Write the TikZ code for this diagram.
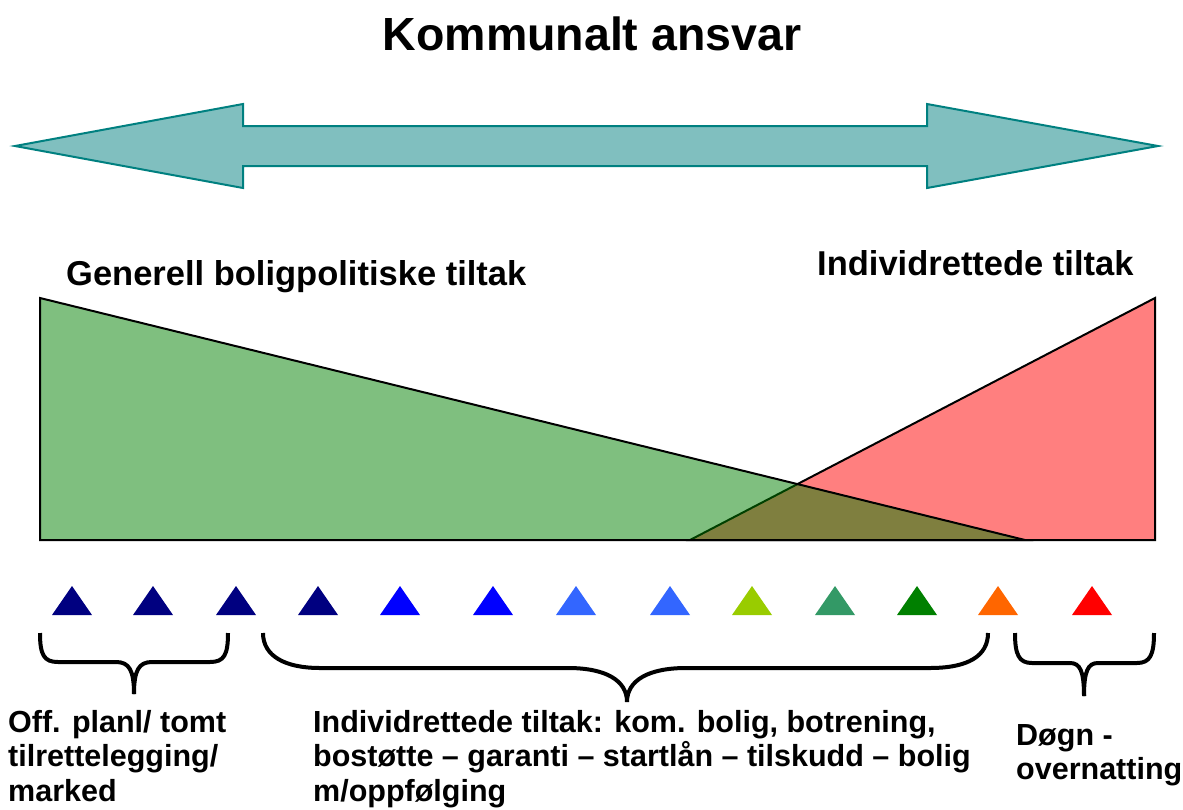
\documentclass[tikz,border=0pt]{standalone}
\usepackage{fontspec}
\setmainfont{Liberation Sans}
\definecolor{arrowfillc}{RGB}{128,191,191}
\definecolor{arrowline}{RGB}{0,128,128}
\definecolor{navyc}{RGB}{0,0,128}
\definecolor{bluec}{RGB}{0,0,255}
\definecolor{lightbluec}{RGB}{51,102,255}
\definecolor{limec}{RGB}{153,204,0}
\definecolor{seagreenc}{RGB}{51,153,102}
\definecolor{greenc}{RGB}{0,128,0}
\definecolor{orangec}{RGB}{255,102,0}
\definecolor{redc}{RGB}{255,0,0}
\begin{document}
\begin{tikzpicture}[x=1pt,y=-1pt,
  bigarrow/.style={fill=arrowfillc, draw=arrowline, line width=2pt, line join=miter},
  wedge/.style={draw=black, line width=2pt, fill opacity=0.5, line join=miter},
  marker/.style={fill=#1},
  bracepath/.style={draw=black, line width=4pt},
  titletext/.style={font=\bfseries\fontsize{46.5}{52}\selectfont, inner sep=0pt},
  headtext/.style={font=\bfseries\fontsize{34.5}{40}\selectfont, inner sep=0pt, anchor=base west},
  bottomtext/.style={font=\bfseries\fontsize{30.5}{34.5}\selectfont, inner sep=0pt, anchor=base west, align=left}
]
\useasboundingbox (0,0) rectangle (1183,809);

% title
\node[titletext, anchor=base] (title) at (592,50) {Kommunalt ansvar};

% double arrow
\draw[bigarrow] (15,146) -- (243,104) -- (243,126) -- (927,126) -- (927,104)
  -- (1158,146) -- (927,188) -- (927,166) -- (243,166) -- (243,188) -- cycle;

% headings
\node[headtext] (gen) at (66,285) {Generell boligpolitiske tiltak};
\node[headtext] (ind) at (817,275) {Individrettede tiltak};

% wedges
\draw[wedge, fill=redc] (1155,298) -- (1155,540) -- (690,540) -- cycle;
\draw[wedge, fill=greenc] (40,298) -- (40,540) -- (1025,540) -- cycle;

% markers
\foreach \x/\c in {72/navyc,153/navyc,236/navyc,318/navyc,400/bluec,493/bluec,
  576/lightbluec,670/lightbluec,752/limec,835/seagreenc,917/greenc,998/orangec,1092/redc}{
  \fill[marker=\c] (\x-20,615) -- (\x,586) -- (\x+20,615) -- cycle;
}

% braces
\draw[bracepath] (40,633) .. controls (40,655) and (44,662) .. (58,662) -- (116,662)
  .. controls (129,662) and (134,670) .. (134,694);
\draw[bracepath] (134,694) .. controls (134,670) and (139,662) .. (152,662) -- (210,662)
  .. controls (224,662) and (228,655) .. (228,633);

\draw[bracepath] (263,633) .. controls (263,656) and (285,668) .. (320,668) -- (568,668)
  .. controls (605,668) and (627,680) .. (627,702);
\draw[bracepath] (627,702) .. controls (627,680) and (649,668) .. (686,668) -- (930,668)
  .. controls (968,668) and (988,656) .. (988,633);

\draw[bracepath] (1015,633) .. controls (1015,655) and (1019,663) .. (1032,663) -- (1070,663)
  .. controls (1080,663) and (1084,671) .. (1084,696);
\draw[bracepath] (1084,696) .. controls (1084,671) and (1088,663) .. (1098,663) -- (1137,663)
  .. controls (1150,663) and (1154,655) .. (1154,633);

% bottom texts
\node[bottomtext] (left) at (8,801) {Off. planl/ tomt\\tilrettelegging/\\marked};
\node[bottomtext] (mid) at (313,801) {Individrettede tiltak: kom. bolig, botrening,\\bostøtte – garanti – startlån – tilskudd – bolig\\m/oppfølging};
\node[bottomtext] (right) at (1016,779.5) {Døgn -\\overnatting};
\end{tikzpicture}
\end{document}
